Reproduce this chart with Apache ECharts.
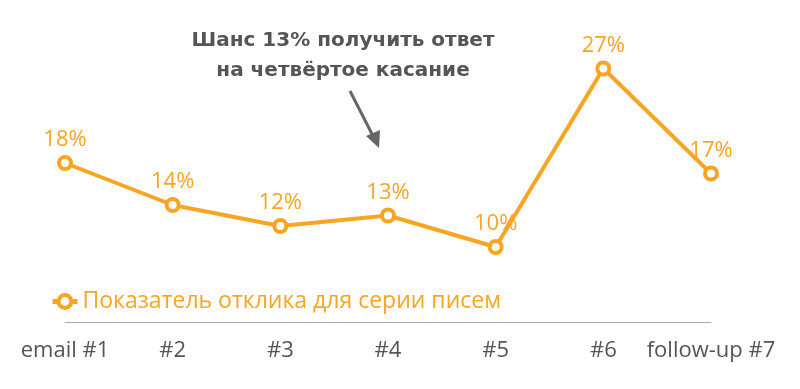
<!DOCTYPE html>
<html><head><meta charset="utf-8">
<script src="https://cdn.jsdelivr.net/npm/echarts@6/dist/echarts.min.js"></script>
<style>html,body{margin:0;padding:0;background:#fff}#c{width:800px;height:389px}</style>
</head><body><div id="c"></div>
<script>
const categories = ['email #1', '#2', '#3', '#4', '#5', '#6', 'follow-up #7'];
const responseRates = [18, 14, 12, 13, 10, 27, 17];
const seriesName = 'Показатель отклика для серии писем';
const annotationText = 'Шанс 13% получить ответ\nна четвёртое касание';

const orange = '#F9A524';
const font = '"Open Sans"';
const chart = echarts.init(document.getElementById('c'));
chart.setOption({
  animation: false,
  grid: { left: 65, right: 89, top: 37, bottom: 37 },
  legend: {
    left: 45, top: 285,
    itemWidth: 25, itemHeight: 16,
    itemGap: 9,
    itemStyle: { borderWidth: 4 },
    lineStyle: { width: 5 },
    textStyle: { color: orange, fontSize: 23, fontFamily: font },
    data: [seriesName]
  },
  xAxis: {
    type: 'category', data: categories, boundaryGap: false,
    offset: -30,
    axisLine: { lineStyle: { color: '#aaa', width: 1 } },
    axisTick: { show: false },
    axisLabel: { color: '#555', fontSize: 22, margin: 18, interval: 0, fontFamily: font },
    splitLine: { show: false }
  },
  yAxis: { type: 'value', min: 0, max: 30, show: false, splitLine: { show: false } },
  series: [{
    name: seriesName, type: 'line', data: responseRates,
    symbol: 'circle', symbolSize: 12,
    lineStyle: { color: orange, width: 4 },
    itemStyle: { color: '#fff', borderColor: orange, borderWidth: 4 },
    label: { show: true, position: 'top', distance: 4, color: orange, fontSize: 22,
      fontFamily: font, formatter: p => p.value + '%' }
  }],
  graphic: [
    { type: 'text', x: 343, y: 26, style: {
      text: annotationText, fill: '#555', align: 'center',
      font: 'bold 20px "DejaVu Sans"', lineHeight: 30 } },
    { type: 'line', shape: { x1: 350, y1: 91, x2: 373, y2: 136 },
      style: { stroke: '#666', lineWidth: 3 } },
    { type: 'polygon', shape: { points: [[379, 148], [366, 136], [380, 130]] },
      style: { fill: '#666' } }
  ]
});
</script></body></html>
